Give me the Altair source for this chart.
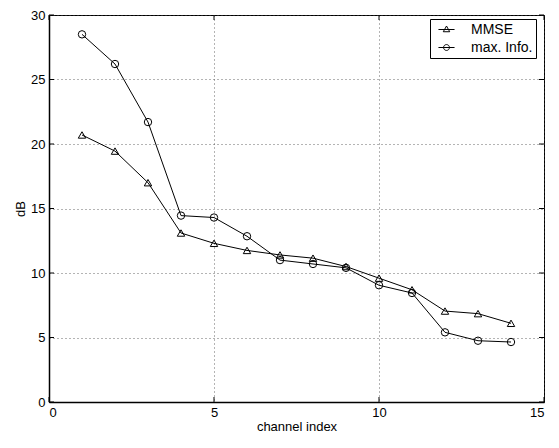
import altair as alt
import pandas as pd

channels = list(range(1, 15))
mmse = [20.7, 19.45, 17.0, 13.1, 12.3, 11.75, 11.4, 11.15, 10.5, 9.6, 8.7, 7.05, 6.85, 6.1]
maxinfo = [28.5, 26.2, 21.7, 14.45, 14.3, 12.85, 11.0, 10.7, 10.4, 9.05, 8.45, 5.4, 4.75, 4.65]
series_names = ["MMSE", "max. Info."]
x_ticks = [0, 5, 10, 15]
y_ticks = [0, 5, 10, 15, 20, 25, 30]

rows = []
for c, a, b in zip(channels, mmse, maxinfo):
    rows.append({"channel": c, "dB": a, "series": series_names[0], "leg": series_names[0]})
    rows.append({"channel": c, "dB": b, "series": series_names[1], "leg": series_names[1]})
df = pd.DataFrame(rows)

W, H = 495, 387
FONT = "Liberation Sans"

xscale = alt.Scale(domain=[0, 15], nice=False)
yscale = alt.Scale(domain=[0, 30], nice=False)

xaxis = alt.Axis(values=x_ticks, title="channel index", grid=True, ticks=False,
                 labelPadding=4, titlePadding=1, domain=True)
yaxis = alt.Axis(values=y_ticks, title="dB", grid=True, ticks=False,
                 labelPadding=4, titlePadding=3, domain=True)

tri = "M-1.15,0H1.15M0,-0.5L0.46,0.32L-0.46,0.32Z"
cir = "M-1.15,0H1.15M0.42,0A0.42,0.42,0,1,1,-0.42,0A0.42,0.42,0,1,1,0.42,0"

lines = alt.Chart(df).mark_line(color="black", strokeWidth=1).encode(
    x=alt.X("channel:Q", scale=xscale, axis=xaxis),
    y=alt.Y("dB:Q", scale=yscale, axis=yaxis),
    detail="series:N",
)

points = alt.Chart(df).mark_point(filled=False, color="black", size=55, strokeWidth=1, opacity=1).encode(
    x=alt.X("channel:Q", scale=xscale),
    y=alt.Y("dB:Q", scale=yscale),
    shape=alt.Shape("series:N",
                    scale=alt.Scale(domain=series_names, range=["triangle-up", "circle"]),
                    legend=None),
)

legend_layer = alt.Chart(df).mark_point(filled=False, color="black", opacity=0).encode(
    x=alt.X("channel:Q", scale=xscale),
    y=alt.Y("dB:Q", scale=yscale),
    shape=alt.Shape("leg:N",
                    scale=alt.Scale(domain=series_names, range=[tri, cir]),
                    legend=alt.Legend(
                        title=None, orient="none", legendX=381, legendY=4,
                        strokeColor="black", fillColor="white", padding=3,
                        rowPadding=3, symbolSize=196, symbolOffset=6, labelOffset=17,
                        symbolStrokeColor="black", symbolFillColor="transparent",
                        symbolStrokeWidth=1, symbolOpacity=1,
                        labelFontSize=14, labelFont=FONT, labelColor="black",
                        labelExpr="datum.label + '\u00a0\u00a0'",
                    )),
)

xt = pd.DataFrame({"t": x_ticks})
yt = pd.DataFrame({"t": y_ticks})

xt_bottom = alt.Chart(xt).mark_rule(color="black", strokeWidth=1).encode(
    x=alt.X("t:Q", scale=xscale), y=alt.value(H), y2=alt.value(H - 5))
xt_top = alt.Chart(xt).mark_rule(color="black", strokeWidth=1).encode(
    x=alt.X("t:Q", scale=xscale), y=alt.value(0), y2=alt.value(5))
yt_left = alt.Chart(yt).mark_rule(color="black", strokeWidth=1).encode(
    y=alt.Y("t:Q", scale=yscale), x=alt.value(0), x2=alt.value(5))
yt_right = alt.Chart(yt).mark_rule(color="black", strokeWidth=1).encode(
    y=alt.Y("t:Q", scale=yscale), x=alt.value(W), x2=alt.value(W - 5))

chart = alt.layer(xt_bottom, xt_top, yt_left, yt_right, lines, points, legend_layer).resolve_scale(
    shape="independent"
).properties(
    width=W, height=H,
    background="white",
    autosize=alt.AutoSizeParams(type="none"),
    padding={"left": 41, "top": 7, "right": 7, "bottom": 31},
).configure_view(
    stroke="black", strokeWidth=1
).configure_axis(
    labelFont=FONT, titleFont=FONT, labelFontSize=13, titleFontSize=13,
    labelColor="black", titleColor="black", titleFontWeight="normal",
    domainColor="black", domainWidth=1.5,
    gridColor="#444", gridDash=[1, 3], gridWidth=1, gridOpacity=0.8,
)

chart.save("out.html", embed_options={"renderer": "svg", "actions": False})
